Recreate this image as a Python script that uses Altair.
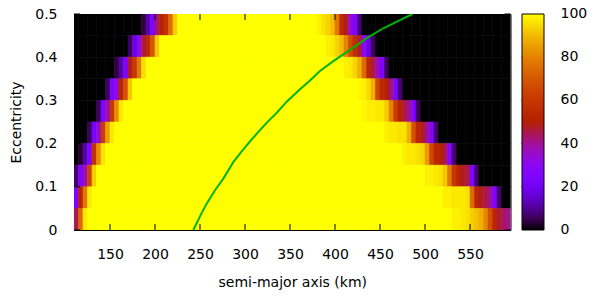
import math
import altair as alt
import pandas as pd

# ---------------- data ----------------
A_START = 110          # km, left edge of first column
A_STEP = 5             # km, column width
N_COLS = 97
E_STEP = 0.05          # eccentricity row height

# rows from top (e = 0.45..0.50) to bottom (e = 0..0.05); lower edge of each row
row_ecc = [0.45, 0.40, 0.35, 0.30, 0.25, 0.20, 0.15, 0.10, 0.05, 0.00]

# left transition (black -> yellow): first column index and values
left_start = [15, 12, 9, 7, 5, 3, 1, 0, 0, 0]
left_vals = [
    [4, 12, 24, 43, 52, 58, 75, 93],
    [6, 18, 30, 46, 55, 70, 92],
    [4, 12, 24, 48, 60, 78, 95],
    [6, 24, 33, 52, 68, 92],
    [6, 24, 38, 60, 82, 97],
    [6, 22, 35, 62, 85, 97],
    [3, 12, 25, 58, 82, 96],
    [7, 24, 38, 64, 93],
    [26, 52, 78, 97],
    [45, 74, 97],
]
# right transition (yellow -> black): first column index and values
right_start = [54, 56, 60, 63, 64, 69, 73, 78, 82, 84]
right_vals = [
    [98, 96, 94, 90, 78, 56, 48, 35, 24, 8],
    [98, 97, 94, 90, 80, 66, 56, 47, 30, 18, 6],
    [98, 97, 94, 88, 75, 54, 46, 37, 25, 6],
    [99, 98, 95, 88, 65, 54, 50, 42, 25, 8],
    [99, 98, 98, 97, 97, 93, 80, 62, 52, 46, 40, 25, 6],
    [98, 97, 97, 96, 96, 88, 68, 53, 48, 40, 25, 7],
    [98, 97, 97, 96, 94, 85, 65, 53, 50, 45, 27, 7],
    [98, 98, 97, 96, 92, 78, 60, 52, 48, 46, 25, 7],
    [98, 98, 97, 97, 97, 96, 75, 53, 48, 46, 40, 25, 7],
    [98, 98, 97, 96, 93, 91, 88, 81, 68, 53, 47, 44, 41],
]

# green curve
curve_a = [242.6, 251.5, 257.4, 266.7, 275.9, 287.0, 296.3, 305.6, 314.8, 325.9,
           335.2, 346.3, 361.1, 372.2, 383.3, 398.1, 416.7, 435.2, 453.7, 472.2, 486.0]
curve_e = [0.000, 0.038, 0.061, 0.092, 0.119, 0.157, 0.182, 0.205, 0.227, 0.252,
           0.271, 0.297, 0.326, 0.346, 0.368, 0.391, 0.417, 0.444, 0.467, 0.486, 0.500]

x_ticks = [150, 200, 250, 300, 350, 400, 450, 500, 550]
y_ticks = [0.0, 0.1, 0.2, 0.3, 0.4, 0.5]
cb_ticks = [0, 20, 40, 60, 80, 100]
CB_MAX = 100

# ---------------- assemble table ----------------
rows = []
for r, e0 in enumerate(row_ecc):
    ls, lv = left_start[r], left_vals[r]
    rs, rv = right_start[r], right_vals[r]
    for k in range(N_COLS):
        if k < ls:
            v = 0
        elif k < ls + len(lv):
            v = lv[k - ls]
        elif k < rs:
            v = 100
        elif k < rs + len(rv):
            v = rv[k - rs]
        else:
            v = 0
        a0 = A_START + A_STEP * k
        rows.append({"a": a0, "a2": a0 + A_STEP, "e": e0, "e2": round(e0 + E_STEP, 3),
                     "v": v, "vs": v})
cells = pd.DataFrame(rows)
curve = pd.DataFrame({"a": curve_a, "e": curve_e})

# gnuplot default palette (rgbformulae 7,5,15)
def pal(t):
    r = math.sqrt(t)
    g = t ** 3
    b = max(0.0, math.sin(2 * math.pi * t))
    return "#%02x%02x%02x" % (round(255 * r), round(255 * g), round(255 * b))

def stops(n):
    return [100 * i / n for i in range(n + 1)], [pal(i / n) for i in range(n + 1)]

fill_dom, fill_rng = stops(40)
strk_dom, strk_rng = stops(50)   # separate scale so that the legend stays a gradient

# ---------------- chart ----------------
W, H = 436.5, 216
CB_GAP, CB_W, CB_LAB = 11, 22, 17
FONT = "DejaVu Sans"
FS = 14
XT = "semi-major axis (km)"
YT = "Eccentricity"
E_MAX = 0.5

xs = alt.Scale(domain=[110, 595], nice=False, zero=False)
ys = alt.Scale(domain=[0, E_MAX], nice=False, zero=False)
cs = alt.Scale(domain=fill_dom, range=fill_rng, interpolate="rgb")
ss = alt.Scale(domain=strk_dom, range=strk_rng, interpolate="rgb")

x_axis = alt.Axis(values=x_ticks, ticks=False, domain=False, grid=False,
                  labelFont=FONT, labelFontSize=FS, labelColor="black", labelPadding=17,
                  titleFont=FONT, titleFontSize=FS, titleFontWeight="normal", titleColor="black",
                  titleY=56, titleBaseline="alphabetic")
y_axis = alt.Axis(values=y_ticks, format=".1~f", ticks=False, domain=False, grid=False,
                  labelFont=FONT, labelFontSize=FS, labelColor="black", labelPadding=17,
                  titleFont=FONT, titleFontSize=FS, titleFontWeight="normal", titleColor="black",
                  titleX=-54, titleY=H / 2, titleAngle=270, titleBaseline="alphabetic",
                  titleAlign="center")

heat = alt.Chart(cells).mark_rect(strokeWidth=0.6, clip=True).encode(
    x=alt.X("a:Q", scale=xs, axis=x_axis, title=XT),
    x2="a2:Q",
    y=alt.Y("e:Q", scale=ys, axis=y_axis, title=YT),
    y2="e2:Q",
    color=alt.Color("v:Q", scale=cs, title=None,
                    legend=alt.Legend(type="gradient", orient="right", offset=CB_GAP, padding=0,
                                      direction="vertical",
                                      gradientLength=H, gradientThickness=CB_W,
                                      gradientStrokeColor="black", gradientStrokeWidth=1,
                                      values=cb_ticks, labelExpr="''", labelFontSize=FS)),
    stroke=alt.Stroke("vs:Q", scale=ss, legend=None),
)

line = alt.Chart(curve).mark_line(color="#00b400", strokeWidth=2, clip=True).encode(
    x=alt.X("a:Q", scale=xs, title=XT),
    y=alt.Y("e:Q", scale=ys, title=YT),
)

xt_df = pd.DataFrame({"a": x_ticks})
yt_df = pd.DataFrame({"e": y_ticks})
tick_bottom = alt.Chart(xt_df).mark_rule(color="black", strokeWidth=1).encode(
    x=alt.X("a:Q", scale=xs, title=XT), y=alt.value(H), y2=alt.value(H - 6))
tick_top = alt.Chart(xt_df).mark_rule(color="black", strokeWidth=1).encode(
    x=alt.X("a:Q", scale=xs, title=XT), y=alt.value(0), y2=alt.value(6))
tick_left = alt.Chart(yt_df).mark_rule(color="black", strokeWidth=1).encode(
    y=alt.Y("e:Q", scale=ys, title=YT), x=alt.value(0), x2=alt.value(6))
tick_right = alt.Chart(yt_df).mark_rule(color="black", strokeWidth=1).encode(
    y=alt.Y("e:Q", scale=ys, title=YT), x=alt.value(W - 6), x2=alt.value(W))

# colour-bar labels and ticks, centred on their values like gnuplot does
cb_df = pd.DataFrame({"lab": [str(t) for t in cb_ticks],
                      "e": [t / CB_MAX * E_MAX for t in cb_ticks]})
cb_inner = cb_df[(cb_df["e"] > 0) & (cb_df["e"] < E_MAX)]
cb_text = alt.Chart(cb_df).mark_text(align="left", baseline="middle", font=FONT, fontSize=FS,
                                     color="black", clip=False).encode(
    y=alt.Y("e:Q", scale=ys, title=YT), x=alt.value(W + CB_GAP + CB_W + CB_LAB), text="lab:N")
cb_tick_l = alt.Chart(cb_inner).mark_rule(color="black", strokeWidth=1, clip=False).encode(
    y=alt.Y("e:Q", scale=ys, title=YT), x=alt.value(W + CB_GAP), x2=alt.value(W + CB_GAP + 3))
cb_tick_r = alt.Chart(cb_inner).mark_rule(color="black", strokeWidth=1, clip=False).encode(
    y=alt.Y("e:Q", scale=ys, title=YT), x=alt.value(W + CB_GAP + CB_W - 3),
    x2=alt.value(W + CB_GAP + CB_W))

chart = alt.layer(heat, line, tick_bottom, tick_top, tick_left, tick_right,
                  cb_text, cb_tick_l, cb_tick_r).properties(
    width=W, height=H,
    autosize=alt.AutoSizeParams(type="none"),
    padding={"left": 66, "top": 6, "right": 90, "bottom": 62},
    background="white",
).configure_view(stroke="black", strokeWidth=1)

chart.save("out.html", embed_options={"renderer": "svg", "actions": False})
